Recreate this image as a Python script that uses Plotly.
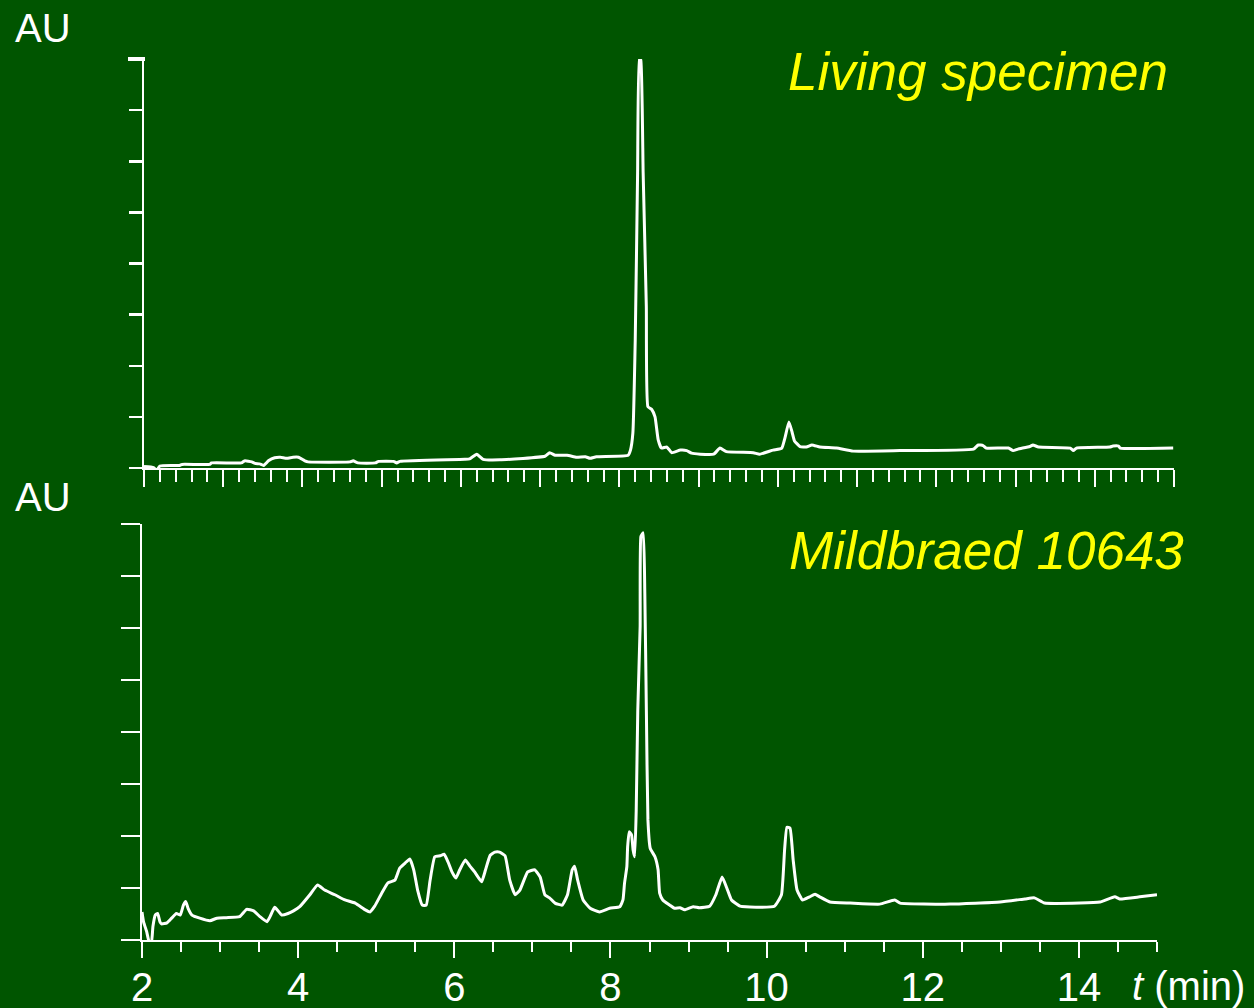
import plotly.graph_objects as go

# ---- Data (time in min, absorbance in axis-tick units) ----
top_t = [2.00, 2.12, 2.16, 2.20, 2.45, 2.48, 2.83, 2.85, 3.23, 3.27, 3.36, 3.40, 3.46, 3.51, 3.57,
         3.65, 3.72, 3.80, 3.88, 3.95, 4.03, 4.07, 4.60, 4.64, 4.70, 4.92, 4.96, 5.15, 5.19, 5.23,
         6.05, 6.11, 6.20, 6.28, 6.49, 7.06, 7.12, 7.19, 7.34, 7.46, 7.57, 7.63, 7.71, 8.11, 8.14,
         8.17, 8.20, 8.23, 8.25, 8.27, 8.30, 8.34, 8.36, 8.41, 8.45, 8.49, 8.53, 8.60, 8.66, 8.77,
         8.85, 8.91, 9.02, 9.19, 9.27, 9.35, 9.69, 9.77, 9.94, 10.05, 10.09, 10.14, 10.18, 10.21,
         10.28, 10.36, 10.43, 10.53, 10.74, 10.95, 11.54, 12.47, 12.53, 12.59, 12.63, 12.91, 12.97,
         13.03, 13.18, 13.22, 13.29, 13.69, 13.73, 13.77, 14.19, 14.23, 14.30, 14.32, 14.99]
top_au = [0.03, 0.01, -0.05, 0.04, 0.05, 0.07, 0.07, 0.10, 0.10, 0.14, 0.12, 0.09, 0.08, 0.05, 0.14,
          0.20, 0.21, 0.19, 0.21, 0.21, 0.14, 0.12, 0.12, 0.14, 0.10, 0.10, 0.13, 0.13, 0.10, 0.13,
          0.17, 0.18, 0.27, 0.17, 0.16, 0.23, 0.30, 0.25, 0.25, 0.21, 0.22, 0.19, 0.22, 0.25, 0.35,
          0.68, 2.50, 5.77, 8.02, 7.98, 5.77, 3.16, 1.20, 1.14, 1.00, 0.55, 0.39, 0.41, 0.30, 0.35,
          0.34, 0.29, 0.27, 0.27, 0.39, 0.32, 0.30, 0.27, 0.35, 0.39, 0.59, 0.90, 0.70, 0.53,
          0.42, 0.41, 0.45, 0.41, 0.39, 0.33, 0.34, 0.37, 0.45, 0.44, 0.39, 0.39, 0.34,
          0.37, 0.42, 0.45, 0.41, 0.39, 0.34, 0.39, 0.41, 0.43, 0.43, 0.39, 0.39]

bot_t = [2.00, 2.02, 2.06, 2.09, 2.12, 2.14, 2.17, 2.20, 2.23, 2.25, 2.32, 2.38, 2.44, 2.49, 2.53,
         2.56, 2.59, 2.64, 2.74, 2.87, 2.96, 3.08, 3.25, 3.34, 3.43, 3.51, 3.60, 3.64, 3.70, 3.79,
         3.87, 3.94, 4.02, 4.15, 4.25, 4.34, 4.47, 4.60, 4.73, 4.86, 4.92, 4.98, 5.07, 5.15, 5.24,
         5.30, 5.37, 5.43, 5.48, 5.53, 5.59, 5.64, 5.69, 5.75, 5.82, 5.87, 5.92, 5.97, 6.02, 6.07,
         6.14, 6.20, 6.26, 6.35, 6.40, 6.46, 6.52, 6.58, 6.65, 6.71, 6.78, 6.84, 6.94, 7.03, 7.10,
         7.16, 7.22, 7.29, 7.38, 7.45, 7.51, 7.54, 7.58, 7.65, 7.74, 7.86, 7.99, 8.12, 8.16, 8.18,
         8.21, 8.22, 8.24, 8.27, 8.29, 8.31, 8.33, 8.35, 8.38, 8.39, 8.42, 8.44, 8.46, 8.48, 8.51,
         8.57, 8.61, 8.63, 8.67, 8.76, 8.82, 8.89, 8.95, 9.06, 9.14, 9.27, 9.35, 9.43, 9.49, 9.55,
         9.66, 9.91, 10.10, 10.19, 10.23, 10.26, 10.30, 10.34, 10.39, 10.46, 10.55, 10.62, 10.68,
         10.81, 11.07, 11.45, 11.64, 11.71, 12.35, 12.99, 13.31, 13.43, 13.56, 14.01, 14.27, 14.46,
         14.52, 14.78, 15.00]
bot_au = [0.54, 0.35, 0.16, -0.03, -0.06, 0.26, 0.48, 0.51, 0.35, 0.31, 0.33, 0.42, 0.51, 0.48, 0.67,
          0.74, 0.61, 0.48, 0.42, 0.37, 0.42, 0.43, 0.45, 0.59, 0.56, 0.45, 0.35, 0.45, 0.63, 0.48,
          0.51, 0.56, 0.64, 0.87, 1.06, 0.96, 0.87, 0.77, 0.71, 0.58, 0.54, 0.65, 0.90, 1.10, 1.15,
          1.38, 1.48, 1.56, 1.35, 0.96, 0.67, 0.67, 1.15, 1.60, 1.62, 1.65, 1.50, 1.31, 1.19, 1.35,
          1.54, 1.42, 1.31, 1.12, 1.35, 1.63, 1.69, 1.69, 1.62, 1.15, 0.87, 0.96, 1.31, 1.35, 1.21,
          0.87, 0.81, 0.71, 0.67, 0.87, 1.35, 1.42, 1.15, 0.77, 0.61, 0.54, 0.61, 0.64, 0.77, 1.09,
          1.41, 1.79, 2.08, 2.02, 1.73, 1.60, 2.50, 4.42, 6.03, 7.76, 7.83, 6.67, 4.42, 2.31, 1.76,
          1.60, 1.35, 0.90, 0.77, 0.67, 0.61, 0.62, 0.58, 0.64, 0.62, 0.65, 0.87, 1.21, 1.00, 0.77,
          0.65, 0.63, 0.65, 0.87, 1.73, 2.17, 2.15, 1.54, 0.96, 0.77, 0.83, 0.88, 0.83,
          0.73, 0.71, 0.69, 0.77, 0.71, 0.69, 0.73, 0.79, 0.81, 0.71, 0.71, 0.73, 0.83,
          0.79, 0.83, 0.87]

x_ticks_bottom = [2, 4, 6, 8, 10, 12, 14]
x_ticklabels_bottom = ["2", "4", "6", "8", "10", "12", "14"]
labels = ["Living specimen", "Mildbraed 10643"]

BG = "#005500"
W, H = 1254, 1008
FONT = "Liberation Sans, Arial, sans-serif"

def px_x(p):
    return p / W

def px_y(p):
    return 1 - p / H

fig = go.Figure()
fig.add_trace(go.Scatter(x=top_t, y=top_au, mode="lines",
                         line=dict(color="white", width=3, shape="spline", smoothing=0.4),
                         xaxis="x", yaxis="y", cliponaxis=False, showlegend=False,
                         hoverinfo="skip"))
fig.add_trace(go.Scatter(x=bot_t, y=bot_au, mode="lines",
                         line=dict(color="white", width=3, shape="spline", smoothing=0.4),
                         xaxis="x2", yaxis="y2", cliponaxis=False, showlegend=False,
                         hoverinfo="skip"))

common_y = dict(range=[0, 8], tick0=0, dtick=1, ticks="outside", tickcolor="white", tickwidth=2.5,
                showticklabels=False, showline=True, linecolor="white", linewidth=2.5,
                showgrid=False, zeroline=False, fixedrange=True, automargin=False)

fig.update_layout(
    width=W, height=H,
    margin=dict(l=0, r=0, t=0, b=0, pad=0, autoexpand=False),
    paper_bgcolor=BG, plot_bgcolor=BG,
    font=dict(family=FONT, color="white", size=40),
    xaxis=dict(domain=[px_x(144), px_x(1174)], anchor="y", range=[2, 15.0001], tick0=2, dtick=1,
               ticks="outside", ticklen=17, tickwidth=2, tickcolor="white",
               minor=dict(tick0=2, dtick=0.2, ticks="outside", ticklen=12, tickwidth=2, tickcolor="white"),
               showticklabels=False, showline=True, linecolor="white", linewidth=2,
               showgrid=False, zeroline=False, automargin=False, fixedrange=True),
    yaxis=dict(domain=[px_y(468), px_y(59)], anchor="x", ticklen=13, **common_y),
    xaxis2=dict(domain=[px_x(142), px_x(1157)], anchor="y2", range=[2, 15.0001],
                tickmode="array", tickvals=x_ticks_bottom, ticktext=x_ticklabels_bottom,
                ticks="outside", ticklen=16, tickwidth=2, tickcolor="white",
                minor=dict(tick0=2, dtick=0.5, ticks="outside", ticklen=10, tickwidth=2, tickcolor="white"),
                tickfont=dict(family=FONT, size=40, color="white"), ticklabelstandoff=-5,
                showline=True, linecolor="white", linewidth=2,
                showgrid=False, zeroline=False, automargin=False, fixedrange=True),
    yaxis2=dict(domain=[px_y(940), px_y(524)], anchor="x2", ticklen=19, **common_y),
)

# thick cap tick at the top of the upper y axis
fig.add_shape(type="line", xref="paper", yref="paper", x0=px_x(128), x1=px_x(145),
              y0=px_y(59), y1=px_y(59), line=dict(color="white", width=4))

ann = [
    dict(text="AU", x=px_x(13), y=px_y(28), xanchor="left", yanchor="middle",
         font=dict(size=40, color="white", family=FONT)),
    dict(text="AU", x=px_x(13), y=px_y(497), xanchor="left", yanchor="middle",
         font=dict(size=40, color="white", family=FONT)),
    dict(text="<i>" + labels[0] + "</i>", x=px_x(1170), y=px_y(72), xanchor="right", yanchor="middle",
         font=dict(size=53, color="#ffff00", family=FONT)),
    dict(text="<i>" + labels[1] + "</i>", x=px_x(1186), y=px_y(550), xanchor="right", yanchor="middle",
         font=dict(size=53, color="#ffff00", family=FONT)),
    dict(text="<i>t</i> (min)", x=px_x(1247), y=px_y(986), xanchor="right", yanchor="middle",
         font=dict(size=40, color="white", family=FONT)),
]
for a in ann:
    fig.add_annotation(xref="paper", yref="paper", showarrow=False, **a)

fig.write_html(
    "out.html",
    config={"displayModeBar": False, "staticPlot": True},
    post_script="document.body.style.margin='0';document.body.style.padding='0';"
                "document.body.style.overflow='hidden';"
                "document.documentElement.style.overflow='hidden';",
)
